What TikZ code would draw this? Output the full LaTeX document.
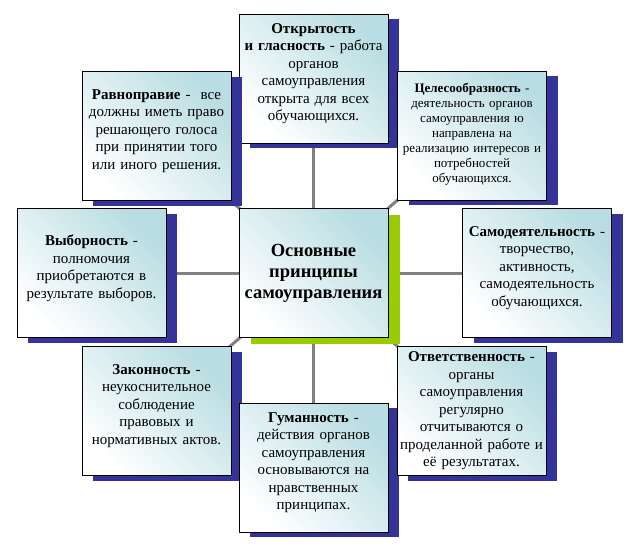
\documentclass[tikz,border=0pt]{standalone}
\usepackage{fontspec}
\setmainfont{Liberation Serif}
\usetikzlibrary{shadows,backgrounds}
\definecolor{tealbox}{RGB}{184,221,226}
\definecolor{shadowblue}{RGB}{51,51,153}
\definecolor{shadowgreen}{RGB}{153,204,0}
\definecolor{linegray}{RGB}{128,128,128}
\tikzset{
  box/.style={rectangle,draw=black,line width=0.8pt,top color=tealbox,bottom color=white,
    shading angle=-45,minimum width=149pt,minimum height=129pt,text width=149pt,
    inner sep=0pt,align=center},
  princ/.style={box,font=\fontsize{15}{17.5}\selectfont,
    drop shadow={opacity=1,fill=shadowblue,shadow xshift=11pt,shadow yshift=-5pt},
    execute at end node={\par\vspace*{#1}}},
  princ/.default=10pt,
  glavn/.style={box,font=\fontsize{18.5}{21}\selectfont\bfseries,
    drop shadow={opacity=1,fill=shadowgreen,shadow xshift=12pt,shadow yshift=-6pt}},
  svyaz/.style={draw=linegray,line width=3pt}
}
\newcommand{\pnode}{\node[princ]}
\newcommand{\gnode}{\node[glavn]}

\begin{document}
\begin{tikzpicture}[x=1pt,y=-1pt]
      \useasboundingbox (0,0) rectangle (634,550);
      \gnode (osn) at (313.5,273) {Основные\\принципы\\самоуправления}; %
      \pnode (otkr) at (313.5,78.5) {\textbf{Открытость}\\\textbf{и гласность} - работа\\органов\\самоуправления\\открыта для всех\\обучающихся.}; %
      \node[princ=2pt,font=\fontsize{13}{15}\selectfont] (cel) at (472,135.5) {\textbf{Целесообразность} -\\деятельность органов\\самоуправления ю\\направлена на\\реализацию интересов и\\потребностей\\обучающихся.};
      \pnode (ravn) at (156.5,136) {\textbf{Равноправие} -\ \ все\\должны иметь право\\решающего голоса\\при принятии того\\или иного решения.};
      \pnode (vyb) at (91.5,273) {\textbf{Выборность} -\\полномочия\\приобретаются в\\результате выборов.};
      \pnode (samod) at (537,273) {\textbf{Самодеятельность} -\\творчество,\\активность,\\самодеятельность\\обучающихся.};
      \pnode (zak) at (156.5,411) {\textbf{Законность} -\\неукоснительное\\соблюдение\\правовых и\\нормативных актов.};
      \pnode (gum) at (313.5,467.5) {\textbf{Гуманность} -\\действия органов\\самоуправления\\основываются на\\нравственных\\принципах.};
      \node[princ=0pt] (otv) at (471.5,411) {\textbf{Ответственность} -\\органы\\самоуправления\\регулярно\\отчитываются о\\проделанной работе и\\её результатах.};
      \begin{scope}[on background layer]
      \draw[svyaz] (osn.center) -- (otkr.center);
      \draw[svyaz] (osn.center) -- (cel.center);
      \draw[svyaz] (osn.center) -- (ravn.center);
      \draw[svyaz] (osn.center) -- (vyb.center);
      \draw[svyaz] (osn.center) -- (samod.center);
      \draw[svyaz] (osn.center) -- (zak.center);
      \draw[svyaz] (osn.center) -- (gum.center);
      \draw[svyaz] (osn.center) -- (otv.center);
      \end{scope}
\end{tikzpicture}
\end{document}
